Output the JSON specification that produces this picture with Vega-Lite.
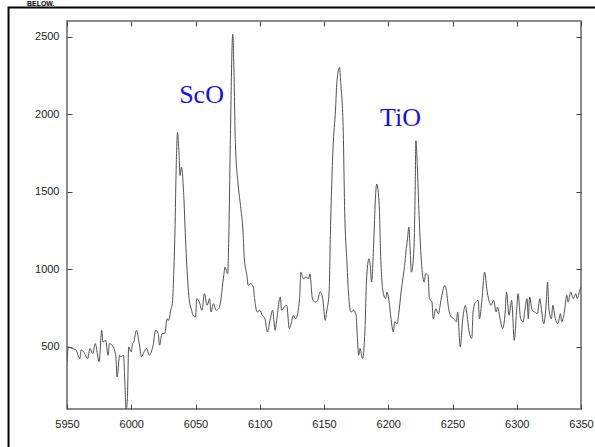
{
  "$schema": "https://vega.github.io/schema/vega-lite/v6.json",
  "width": 514,
  "height": 388,
  "autosize": "none",
  "padding": {"left": 67, "top": 21, "right": 14, "bottom": 38},
  "background": "white",
  "config": {
    "view": {"stroke": "#666666", "strokeWidth": 1.5},
    "axis": {"domain": false, "grid": false, "labelFont": "Liberation Sans", "labelFontSize": 11, "labelColor": "#222222", "tickColor": "#444444", "tickWidth": 1, "title": null, "labelFlush": false, "labelOverlap": false, "labelBound": false}
  },
  "datasets": {
    "spectrum": [
      {"w":5950,"f":404},{"w":5951,"f":500},{"w":5954,"f":490},{"w":5957,"f":480},{"w":5960,"f":425},{"w":5961,"f":480},{"w":5963,"f":468},{"w":5966,"f":425},{"w":5968,"f":490},{"w":5970,"f":457},{"w":5972,"f":521},{"w":5975,"f":404},{"w":5977,"f":607},{"w":5978,"f":532},{"w":5980,"f":543},{"w":5982,"f":446},{"w":5983,"f":521},{"w":5986,"f":500},{"w":5988,"f":436},{"w":5989,"f":307},{"w":5991,"f":446},{"w":5992,"f":436},{"w":5994,"f":446},{"w":5995,"f":275},{"w":5996,"f":90},{"w":5997,"f":168},{"w":5998,"f":500},{"w":6000,"f":468},{"w":6001,"f":521},{"w":6002,"f":532},{"w":6004,"f":607},{"w":6006,"f":532},{"w":6008,"f":436},{"w":6010,"f":468},{"w":6012,"f":490},{"w":6014,"f":446},{"w":6017,"f":511},{"w":6019,"f":607},{"w":6021,"f":586},{"w":6022,"f":511},{"w":6024,"f":586},{"w":6026,"f":586},{"w":6028,"f":682},{"w":6029,"f":671},{"w":6031,"f":746},{"w":6032,"f":779},{"w":6033,"f":961},{"w":6034,"f":1240},{"w":6035,"f":1668},{"w":6036,"f":1882},{"w":6037,"f":1775},{"w":6038,"f":1604},{"w":6039,"f":1658},{"w":6041,"f":1454},{"w":6042,"f":1240},{"w":6044,"f":918},{"w":6045,"f":811},{"w":6047,"f":736},{"w":6048,"f":704},{"w":6050,"f":693},{"w":6051,"f":811},{"w":6053,"f":789},{"w":6055,"f":736},{"w":6057,"f":843},{"w":6059,"f":768},{"w":6061,"f":811},{"w":6062,"f":725},{"w":6064,"f":779},{"w":6066,"f":736},{"w":6068,"f":746},{"w":6069,"f":768},{"w":6072,"f":961},{"w":6073,"f":1014},{"w":6075,"f":971},{"w":6076,"f":1240},{"w":6077,"f":1775},{"w":6079,"f":2515},{"w":6080,"f":2247},{"w":6081,"f":1818},{"w":6083,"f":1561},{"w":6085,"f":1411},{"w":6087,"f":1240},{"w":6088,"f":1068},{"w":6090,"f":961},{"w":6091,"f":896},{"w":6093,"f":907},{"w":6095,"f":886},{"w":6096,"f":811},{"w":6098,"f":725},{"w":6100,"f":736},{"w":6102,"f":704},{"w":6104,"f":682},{"w":6106,"f":596},{"w":6108,"f":671},{"w":6110,"f":736},{"w":6112,"f":607},{"w":6113,"f":661},{"w":6116,"f":822},{"w":6117,"f":736},{"w":6119,"f":757},{"w":6121,"f":768},{"w":6123,"f":618},{"w":6125,"f":671},{"w":6126,"f":704},{"w":6128,"f":682},{"w":6131,"f":811},{"w":6132,"f":982},{"w":6134,"f":939},{"w":6136,"f":950},{"w":6138,"f":939},{"w":6139,"f":971},{"w":6141,"f":811},{"w":6143,"f":789},{"w":6145,"f":800},{"w":6147,"f":854},{"w":6149,"f":811},{"w":6151,"f":671},{"w":6152,"f":725},{"w":6154,"f":854},{"w":6155,"f":1240},{"w":6157,"f":1775},{"w":6159,"f":2033},{"w":6160,"f":2204},{"w":6162,"f":2301},{"w":6163,"f":2204},{"w":6165,"f":1882},{"w":6166,"f":1411},{"w":6168,"f":1025},{"w":6169,"f":854},{"w":6171,"f":725},{"w":6173,"f":736},{"w":6175,"f":704},{"w":6176,"f":554},{"w":6177,"f":446},{"w":6178,"f":490},{"w":6180,"f":425},{"w":6182,"f":639},{"w":6183,"f":918},{"w":6185,"f":1068},{"w":6186,"f":1025},{"w":6187,"f":918},{"w":6189,"f":1240},{"w":6190,"f":1454},{"w":6191,"f":1550},{"w":6193,"f":1411},{"w":6194,"f":1111},{"w":6196,"f":854},{"w":6198,"f":811},{"w":6199,"f":854},{"w":6201,"f":768},{"w":6202,"f":693},{"w":6204,"f":596},{"w":6205,"f":661},{"w":6207,"f":650},{"w":6208,"f":704},{"w":6210,"f":854},{"w":6213,"f":1047},{"w":6214,"f":1132},{"w":6215,"f":1197},{"w":6216,"f":1272},{"w":6217,"f":1132},{"w":6218,"f":982},{"w":6220,"f":1132},{"w":6221,"f":1540},{"w":6221.5,"f":1829},{"w":6222.6,"f":1668},{"w":6224,"f":1347},{"w":6226,"f":1025},{"w":6228,"f":918},{"w":6229,"f":971},{"w":6231,"f":961},{"w":6232,"f":811},{"w":6234,"f":789},{"w":6235,"f":682},{"w":6237,"f":746},{"w":6239,"f":714},{"w":6241,"f":800},{"w":6244,"f":896},{"w":6245,"f":875},{"w":6247,"f":746},{"w":6249,"f":693},{"w":6251,"f":682},{"w":6253,"f":661},{"w":6254,"f":725},{"w":6256,"f":500},{"w":6258,"f":682},{"w":6260,"f":768},{"w":6261,"f":725},{"w":6263,"f":596},{"w":6265,"f":554},{"w":6266,"f":725},{"w":6268,"f":789},{"w":6270,"f":800},{"w":6271,"f":682},{"w":6273,"f":811},{"w":6275,"f":982},{"w":6277,"f":854},{"w":6278,"f":811},{"w":6280,"f":768},{"w":6282,"f":800},{"w":6284,"f":725},{"w":6285,"f":757},{"w":6287,"f":682},{"w":6289,"f":618},{"w":6291,"f":725},{"w":6292,"f":854},{"w":6294,"f":704},{"w":6296,"f":800},{"w":6297,"f":682},{"w":6298,"f":543},{"w":6300,"f":746},{"w":6301,"f":843},{"w":6303,"f":682},{"w":6305,"f":661},{"w":6306,"f":714},{"w":6308,"f":811},{"w":6309,"f":682},{"w":6310,"f":822},{"w":6312,"f":736},{"w":6314,"f":725},{"w":6316,"f":714},{"w":6318,"f":811},{"w":6319,"f":757},{"w":6321,"f":650},{"w":6323,"f":789},{"w":6324,"f":918},{"w":6325,"f":746},{"w":6327,"f":682},{"w":6328,"f":768},{"w":6330,"f":682},{"w":6332,"f":650},{"w":6334,"f":714},{"w":6335,"f":661},{"w":6337,"f":725},{"w":6339,"f":833},{"w":6340,"f":789},{"w":6342,"f":854},{"w":6344,"f":811},{"w":6346,"f":843},{"w":6347,"f":811},{"w":6349,"f":864},{"w":6350,"f":886}
    ],
    "labels": [
      {"w": 6054.7, "f": 2120, "label": "ScO"},
      {"w": 6209.5, "f": 1978, "label": "TiO"}
    ],
    "one": [{"id": 1}]
  },
  "layer": [
    {
      "data": {"name": "spectrum"},
      "mark": {"type": "line", "color": "#505050", "strokeWidth": 1, "clip": true, "interpolate": "monotone"},
      "encoding": {
        "x": {"field": "w", "type": "quantitative", "scale": {"domain": [5950, 6350], "nice": false, "zero": false},
              "axis": {"orient": "bottom", "values": [5950, 6000, 6050, 6100, 6150, 6200, 6250, 6300, 6350], "format": "d", "tickSize": -5, "labelPadding": 14}},
        "y": {"field": "f", "type": "quantitative", "scale": {"domain": [100, 2600], "nice": false, "zero": false},
              "axis": {"orient": "left", "values": [500, 1000, 1500, 2000, 2500], "format": "d", "tickSize": -5, "labelPadding": 13}}
      }
    },
    {
      "data": {"name": "labels"},
      "mark": {"type": "text", "font": "Liberation Serif", "fontSize": 26, "color": "#1010f0", "baseline": "middle", "align": "center"},
      "encoding": {
        "x": {"field": "w", "type": "quantitative", "scale": {"domain": [5950, 6350], "nice": false, "zero": false},
              "axis": {"orient": "top", "values": [5950, 6000, 6050, 6100, 6150, 6200, 6250, 6300, 6350], "tickSize": -5, "labels": false}},
        "y": {"field": "f", "type": "quantitative", "scale": {"domain": [100, 2600], "nice": false, "zero": false},
              "axis": {"orient": "right", "values": [500, 1000, 1500, 2000, 2500], "tickSize": -5, "labels": false}},
        "text": {"field": "label"}
      }
    },
    {
      "data": {"name": "one"},
      "mark": {"type": "rect", "filled": false, "stroke": "black", "strokeWidth": 2, "clip": false},
      "encoding": {
        "x": {"datum": 5904.5, "type": "quantitative", "scale": {"domain": [5950, 6350], "nice": false, "zero": false}, "axis": null},
        "x2": {"datum": 6460},
        "y": {"datum": 2687, "type": "quantitative", "scale": {"domain": [100, 2600], "nice": false, "zero": false}, "axis": null},
        "y2": {"datum": -600}
      }
    },
    {
      "data": {"name": "one"},
      "mark": {"type": "text", "text": "BELOW.", "font": "Liberation Sans", "fontSize": 7, "fontWeight": "bold", "color": "black", "align": "right", "baseline": "alphabetic", "clip": false},
      "encoding": {
        "x": {"datum": 5940.3, "type": "quantitative", "scale": {"domain": [5950, 6350], "nice": false, "zero": false}, "axis": null},
        "y": {"datum": 2697, "type": "quantitative", "scale": {"domain": [100, 2600], "nice": false, "zero": false}, "axis": null}
      }
    }
  ],
  "resolve": {"axis": {"x": "independent", "y": "independent"}}
}
